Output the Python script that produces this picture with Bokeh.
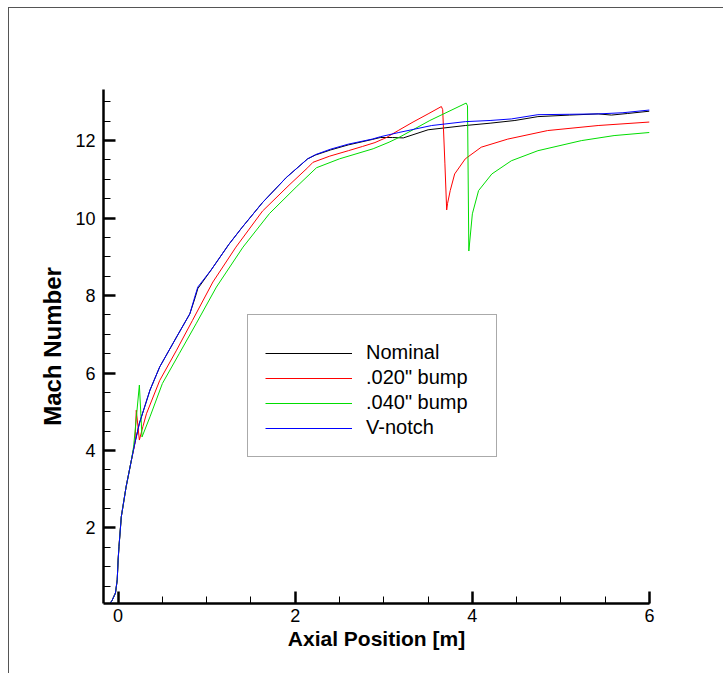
from bokeh.plotting import figure
from bokeh.models import Range1d, SingleIntervalTicker, Legend, LegendItem
from bokeh.embed import file_html
from bokeh.resources import INLINE

# ---- data ----
nominal_x = [-0.09, -0.07, -0.03, -0.01, 0.00, 0.01, 0.036, 0.09, 0.15, 0.19, 0.24, 0.36, 0.47, 0.66,
             0.81, 0.87, 0.90, 1.05, 1.25, 1.40, 1.63, 1.90, 2.14, 2.23, 2.40, 2.60, 2.87, 2.96,
             3.10, 3.22, 3.50, 3.92, 4.20, 4.48, 4.74, 5.10, 5.42, 5.57, 5.75, 6.00]
nominal_y = [0.06, 0.12, 0.32, 0.66, 1.17, 1.52, 2.29, 3.06, 3.75, 4.20, 4.70, 5.56, 6.16, 6.93,
             7.53, 7.95, 8.18, 8.66, 9.32, 9.76, 10.40, 11.05, 11.53, 11.63, 11.76, 11.89, 12.03, 12.08,
             12.08, 12.07, 12.28, 12.39, 12.45, 12.52, 12.62, 12.66, 12.69, 12.66, 12.70, 12.76]

bump020_x = [-0.09, -0.07, -0.03, -0.01, 0.00, 0.01, 0.036, 0.09, 0.15, 0.19, 0.205, 0.24, 0.28, 0.32,
             0.47, 0.66, 0.84, 1.07, 1.33, 1.63, 1.93, 2.14, 2.20, 2.39, 2.60, 2.76, 2.90, 3.03, 3.17,
             3.33, 3.50, 3.65, 3.665, 3.69, 3.71, 3.72, 3.75, 3.80, 3.92, 4.10, 4.40, 4.85, 5.42, 6.00]
bump020_y = [0.06, 0.12, 0.32, 0.66, 1.17, 1.52, 2.29, 3.06, 3.75, 4.20, 5.04, 4.27, 4.62, 4.95,
             5.81, 6.59, 7.36, 8.35, 9.25, 10.18, 10.85, 11.30, 11.44, 11.60, 11.74, 11.85, 11.95, 12.08, 12.27,
             12.48, 12.69, 12.88, 12.80, 11.40, 10.21, 10.38, 10.71, 11.14, 11.53, 11.83, 12.04, 12.26, 12.39, 12.48]

bump040_x = [-0.09, -0.07, -0.03, -0.01, 0.00, 0.01, 0.036, 0.09, 0.15, 0.175, 0.24, 0.27, 0.36, 0.50,
             0.69, 0.88, 1.11, 1.41, 1.71, 2.01, 2.24, 2.50, 2.88, 3.06, 3.17, 3.52, 3.93, 3.945, 3.96,
             4.00, 4.07, 4.22, 4.44, 4.74, 5.23, 5.60, 6.00]
bump040_y = [0.06, 0.12, 0.32, 0.66, 1.17, 1.52, 2.29, 3.06, 3.75, 4.10, 5.69, 4.35, 4.87, 5.73,
             6.50, 7.27, 8.22, 9.25, 10.12, 10.80, 11.30, 11.53, 11.79, 11.96, 12.08, 12.52, 12.97, 12.90, 9.15,
             10.11, 10.71, 11.14, 11.48, 11.74, 12.00, 12.13, 12.21]

vnotch_x = [-0.09, -0.07, -0.03, -0.01, 0.00, 0.01, 0.036, 0.09, 0.15, 0.19, 0.24, 0.36, 0.47, 0.66,
            0.81, 0.87, 0.90, 1.05, 1.25, 1.40, 1.63, 1.90, 2.14, 2.23, 2.40, 2.60, 2.87, 2.96,
            3.17, 3.54, 3.92, 4.20, 4.44, 4.74, 5.10, 5.42, 5.70, 6.00]
vnotch_y = [0.06, 0.12, 0.32, 0.66, 1.17, 1.52, 2.29, 3.06, 3.75, 4.20, 4.70, 5.56, 6.16, 6.93,
            7.53, 8.00, 8.22, 8.66, 9.32, 9.76, 10.40, 11.05, 11.53, 11.64, 11.78, 11.91, 12.04, 12.10,
            12.21, 12.39, 12.49, 12.52, 12.56, 12.67, 12.68, 12.69, 12.72, 12.79]

series_names = ["Nominal", ".020\" bump", ".040\" bump", "V-notch"]
series_colors = ["#000000", "#ff0000", "#00dd00", "#0000ff"]

FONT = "Liberation Sans"

p = figure(width=715, height=666,
           x_range=Range1d(-0.165, 6.0), y_range=Range1d(0.05, 13.32),
           output_backend="svg", toolbar_location=None,
           min_border_left=94, min_border_top=81, min_border_right=75, min_border_bottom=71)
p.styles = {"margin-top": "7px", "margin-left": "8px",
            "border-top": "1px solid #555555", "border-left": "1px solid #555555"}
p.outline_line_color = None
p.grid.visible = False
p.background_fill_color = "white"
p.border_fill_color = "white"

for ax in (p.xaxis[0], p.yaxis[0]):
    ax.ticker = SingleIntervalTicker(interval=2, num_minor_ticks=4)
    ax.axis_line_width = 2.5
    ax.axis_line_color = "black"
    ax.major_tick_line_width = 2.5
    ax.major_tick_line_color = "black"
    ax.minor_tick_line_width = 1
    ax.minor_tick_line_color = "black"
    ax.major_tick_in = 12
    ax.major_tick_out = 0
    ax.minor_tick_in = 7
    ax.minor_tick_out = 0
    ax.major_label_text_font = FONT
    ax.major_label_text_font_size = "18px"
    ax.major_label_text_color = "black"
    ax.axis_label_text_font = FONT
    ax.axis_label_text_font_style = "bold"
    ax.axis_label_text_color = "black"

p.xaxis.axis_label = "Axial Position [m]"
p.xaxis.axis_label_text_font_size = "21px"
p.xaxis.major_label_standoff = 5
p.xaxis.axis_label_standoff = 2
p.yaxis.axis_label = "Mach Number"
p.yaxis.axis_label_text_font_size = "24px"
p.yaxis.major_label_standoff = 8
p.yaxis.axis_label_standoff = 6

xs = [nominal_x, bump020_x, bump040_x, vnotch_x]
ys = [nominal_y, bump020_y, bump040_y, vnotch_y]
items = []
for x, y, name, c in zip(xs, ys, series_names, series_colors):
    r = p.line(x, y, line_color=c, line_width=1)
    items.append(LegendItem(label=name, renderers=[r]))

legend = Legend(items=items, location=(144, 146), margin=0, padding=17, spacing=2,
                glyph_width=87, glyph_height=20, label_height=20, label_width=113, label_standoff=14,
                label_text_font=FONT, label_text_font_size="20px", label_text_color="black",
                border_line_color="#555555", border_line_width=1,
                background_fill_color="white", background_fill_alpha=1.0,
                title=" ", title_text_font_size="1px", title_standoff=8)
p.add_layout(legend)

open("out.html", "w").write(file_html(p, INLINE))
